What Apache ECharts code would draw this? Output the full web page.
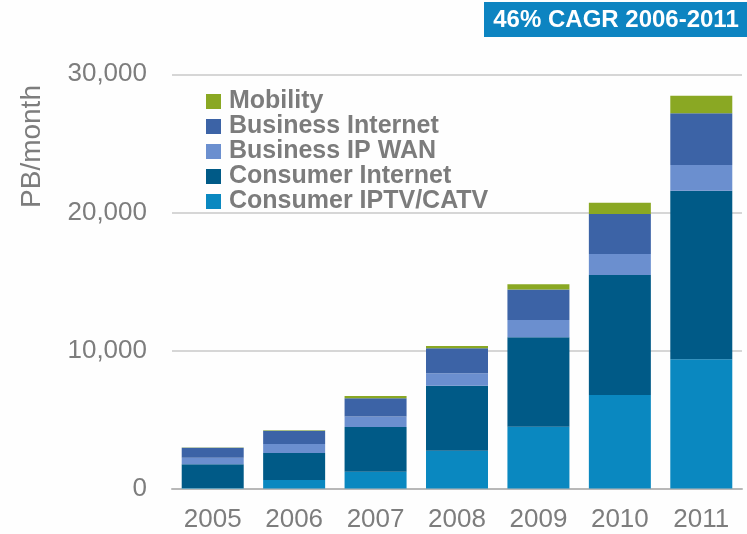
<!DOCTYPE html>
<html>
<head>
<meta charset="utf-8">
<script src="https://cdn.jsdelivr.net/npm/echarts@6/dist/echarts.min.js"></script>
<style>
  html, body { margin: 0; padding: 0; background: #fefefe; }
  #chart { width: 747px; height: 534px; }
</style>
</head>
<body>
<div id="chart"></div>
<script>
// Monthly IP traffic by segment, PB/month
const years = ['2005', '2006', '2007', '2008', '2009', '2010', '2011'];
const consumerIptv     = [30, 620, 1210, 2740, 4470, 6770, 9360];
const consumerInternet = [1720, 1950, 3240, 4700, 6480, 8690, 12200];
const businessIpWan    = [480, 650, 760, 900, 1250, 1520, 1870];
const businessInternet = [720, 970, 1320, 1810, 2220, 2900, 3740];
const mobility         = [20, 30, 170, 170, 370, 810, 1270];
const yTicks = [0, 10000, 20000, 30000];

const font = 'Liberation Sans, Arial, sans-serif';
const grey = '#7d7d7d';

const segments = [
  { name: 'Consumer IPTV/CATV', data: consumerIptv,     color: '#0a88c0' },
  { name: 'Consumer Internet',  data: consumerInternet, color: '#005a87' },
  { name: 'Business IP WAN',    data: businessIpWan,    color: '#6b8fcf' },
  { name: 'Business Internet',  data: businessInternet, color: '#3c63a6' },
  { name: 'Mobility',           data: mobility,         color: '#8aa823' }
];

const chart = echarts.init(document.getElementById('chart'), null, { renderer: 'canvas' });
chart.setOption({
  backgroundColor: '#fefefe',
  animation: false,
  textStyle: { fontFamily: font },
  grid: { left: 172, right: 5, top: 74.3, bottom: 45.5 },
  legend: {
    data: ['Mobility', 'Business Internet', 'Business IP WAN', 'Consumer Internet', 'Consumer IPTV/CATV'],
    orient: 'vertical',
    left: 206,
    top: 89,
    padding: 0,
    itemGap: 0,
    itemWidth: 15,
    itemHeight: 15,
    icon: 'rect',
    textStyle: {
      fontFamily: font,
      fontSize: 25,
      fontWeight: 'bold',
      color: '#7c7c7c',
      lineHeight: 24.5,
      padding: [0, 0, 0, 3]
    }
  },
  xAxis: {
    type: 'category',
    data: years,
    axisTick: { show: false },
    axisLine: { lineStyle: { color: '#b8b8b8', width: 2 } },
    axisLabel: { fontSize: 26, color: grey, margin: 18, fontFamily: font }
  },
  yAxis: {
    type: 'value',
    min: yTicks[0],
    max: yTicks[yTicks.length - 1],
    interval: yTicks[1] - yTicks[0],
    axisLine: { show: false },
    axisTick: { show: false },
    splitLine: { lineStyle: { color: '#c9c9c9', width: 1.5 } },
    axisLabel: {
      fontSize: 26,
      color: grey,
      margin: 25,
      fontFamily: font,
      formatter: v => v.toLocaleString('en-US')
    }
  },
  series: segments.map(s => ({
    name: s.name,
    type: 'bar',
    stack: 'traffic',
    barWidth: 62,
    data: s.data,
    itemStyle: { color: s.color }
  })),
  graphic: [
    {
      type: 'text',
      x: 32,
      y: 146.5,
      rotation: Math.PI / 2,
      style: {
        text: 'PB/month',
        font: '28px ' + font,
        fill: grey,
        textAlign: 'center',
        textVerticalAlign: 'middle'
      }
    },
    {
      type: 'group',
      children: [
        {
          type: 'rect',
          shape: { x: 484, y: 2, width: 263, height: 35 },
          style: { fill: '#0d84c1' }
        },
        {
          type: 'text',
          x: 616,
          y: 20,
          style: {
            text: '46% CAGR 2006-2011',
            font: 'bold 24px ' + font,
            fill: '#ffffff',
            textAlign: 'center',
            textVerticalAlign: 'middle'
          }
        }
      ]
    }
  ]
});
</script>
</body>
</html>
